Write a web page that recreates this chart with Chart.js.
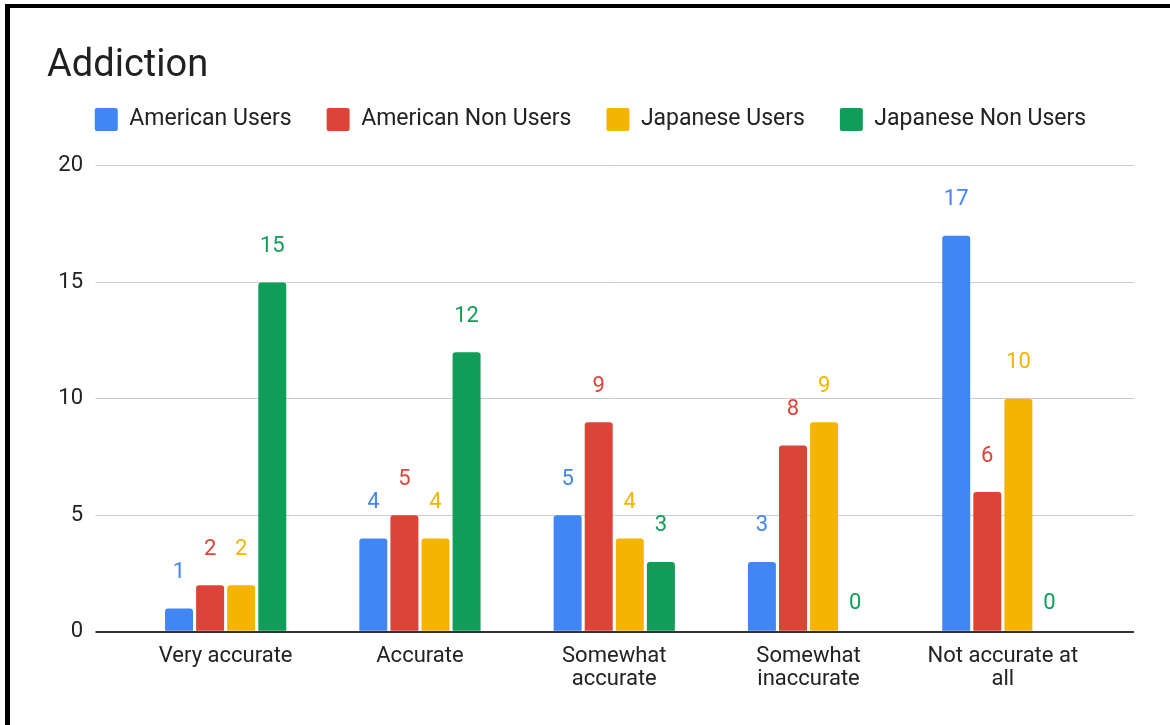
<!DOCTYPE html>
<html>
<head>
<meta charset="utf-8">
<script src="https://cdn.jsdelivr.net/npm/chart.js@4.4.1/dist/chart.umd.min.js"></script>
<style>
  html, body { margin: 0; padding: 0; background: #fff; }
  #wrap { position: relative; width: 1170px; height: 725px; overflow: hidden; }
  #chart { position: absolute; left: 0; top: 0; }
  #frame {
    position: absolute; left: 5px; top: 4px; width: 1300px; height: 800px;
    border-top: 4px solid #000; border-left: 5px solid #000;
    pointer-events: none;
  }
</style>
</head>
<body>
<div id="wrap">
  <canvas id="chart" width="1170" height="725"></canvas>
  <div id="frame"></div>
</div>
<script>
"use strict";

// 回答カテゴリ（x軸）
const categories = [
    'Very accurate',
    'Accurate',
    ['Somewhat', 'accurate'],
    ['Somewhat', 'inaccurate'],
    ['Not accurate at', 'all']
];
const seriesNames = ['American Users', 'American Non Users', 'Japanese Users', 'Japanese Non Users'];
const americanUsers = [1, 4, 5, 3, 17];
const americanNonUsers = [2, 5, 9, 8, 6];
const japaneseUsers = [2, 4, 4, 9, 10];
const japaneseNonUsers = [15, 12, 3, 0, 0];
const yTicks = [0, 5, 10, 15, 20];

const seriesColors = ['#4285F4', '#DB4437', '#F4B400', '#0F9D58'];
const FONT = 'Roboto';

// 0の線だけ濃くする
const gridColor = (ctx) => (ctx.tick && ctx.tick.value === 0 ? '#333333' : '#cccccc');
const gridWidth = (ctx) => (ctx.tick && ctx.tick.value === 0 ? 2 : 1);

// 凡例の下に余白を足す
const legendSpacing = {
    id: 'legendSpacing',
    beforeInit(chart) {
        const origFit = chart.legend.fit;
        chart.legend.fit = function () {
            origFit.call(this);
            this.height += 25;
        };
    }
};

// 棒の上に値を描く
const valueLabels = {
    id: 'valueLabels',
    afterDatasetsDraw(chart) {
        const ctx = chart.ctx;
        ctx.save();
        ctx.font = `22px ${FONT}`;
        ctx.textAlign = 'center';
        ctx.textBaseline = 'middle';
        chart.data.datasets.forEach((ds, i) => {
            const meta = chart.getDatasetMeta(i);
            ctx.fillStyle = ds.backgroundColor;
            meta.data.forEach((bar, j) => {
                const v = ds.data[j];
                const off = v === 0 ? 28 : 36;
                ctx.fillText(String(v), bar.x, bar.y - off);
            });
        });
        ctx.restore();
    }
};

const values = [americanUsers, americanNonUsers, japaneseUsers, japaneseNonUsers];

const datasets = seriesNames.map((name, i) => ({
    label: name,
    data: values[i],
    backgroundColor: seriesColors[i],
    borderWidth: 0,
    borderRadius: 3,
    barPercentage: 0.9,
    categoryPercentage: 0.64
}));

const yScale = (extra) => Object.assign({
    min: yTicks[0],
    max: yTicks[yTicks.length - 1],
    afterBuildTicks(scale) {
        scale.ticks = yTicks.map(v => ({ value: v }));
    },
    border: { display: false }
}, extra);

new Chart(document.getElementById('chart'), {
    type: 'bar',
    data: { labels: categories, datasets },
    options: {
        responsive: false,
        animation: false,
        layout: { padding: { left: 47, right: 36, top: 0, bottom: 21 } },
        plugins: {
            title: {
                display: true,
                text: 'Addiction',
                align: 'start',
                color: '#212121',
                font: { family: FONT, size: 38, weight: 'normal', lineHeight: 0.34 },
                padding: { top: 60, bottom: 0 }
            },
            legend: {
                display: true,
                position: 'top',
                labels: {
                    color: '#222222',
                    font: { family: FONT, size: 23 },
                    boxWidth: 23,
                    boxHeight: 23,
                    useBorderRadius: true,
                    borderRadius: 2,
                    padding: 35
                }
            },
            tooltip: { enabled: false }
        },
        scales: {
            x: {
                grid: { display: false, drawTicks: false },
                border: { display: false },
                ticks: {
                    color: '#222222',
                    font: { family: FONT, size: 22, lineHeight: 1.05 },
                    padding: 13,
                    maxRotation: 0,
                    autoSkip: false
                }
            },
            y: yScale({
                position: 'left',
                afterFit(scale) { scale.width = 81.5; },
                grid: { color: gridColor, lineWidth: gridWidth, tickLength: 33 },
                ticks: {
                    color: '#222222',
                    font: { family: FONT, size: 22 },
                    padding: 12.5
                }
            }),
            y1: yScale({
                position: 'right',
                afterFit(scale) { scale.width = 34; },
                grid: { color: gridColor, lineWidth: gridWidth, tickLength: 34, drawOnChartArea: false },
                ticks: { display: false }
            })
        }
    },
    plugins: [legendSpacing, valueLabels]
});
</script>
</body>
</html>
